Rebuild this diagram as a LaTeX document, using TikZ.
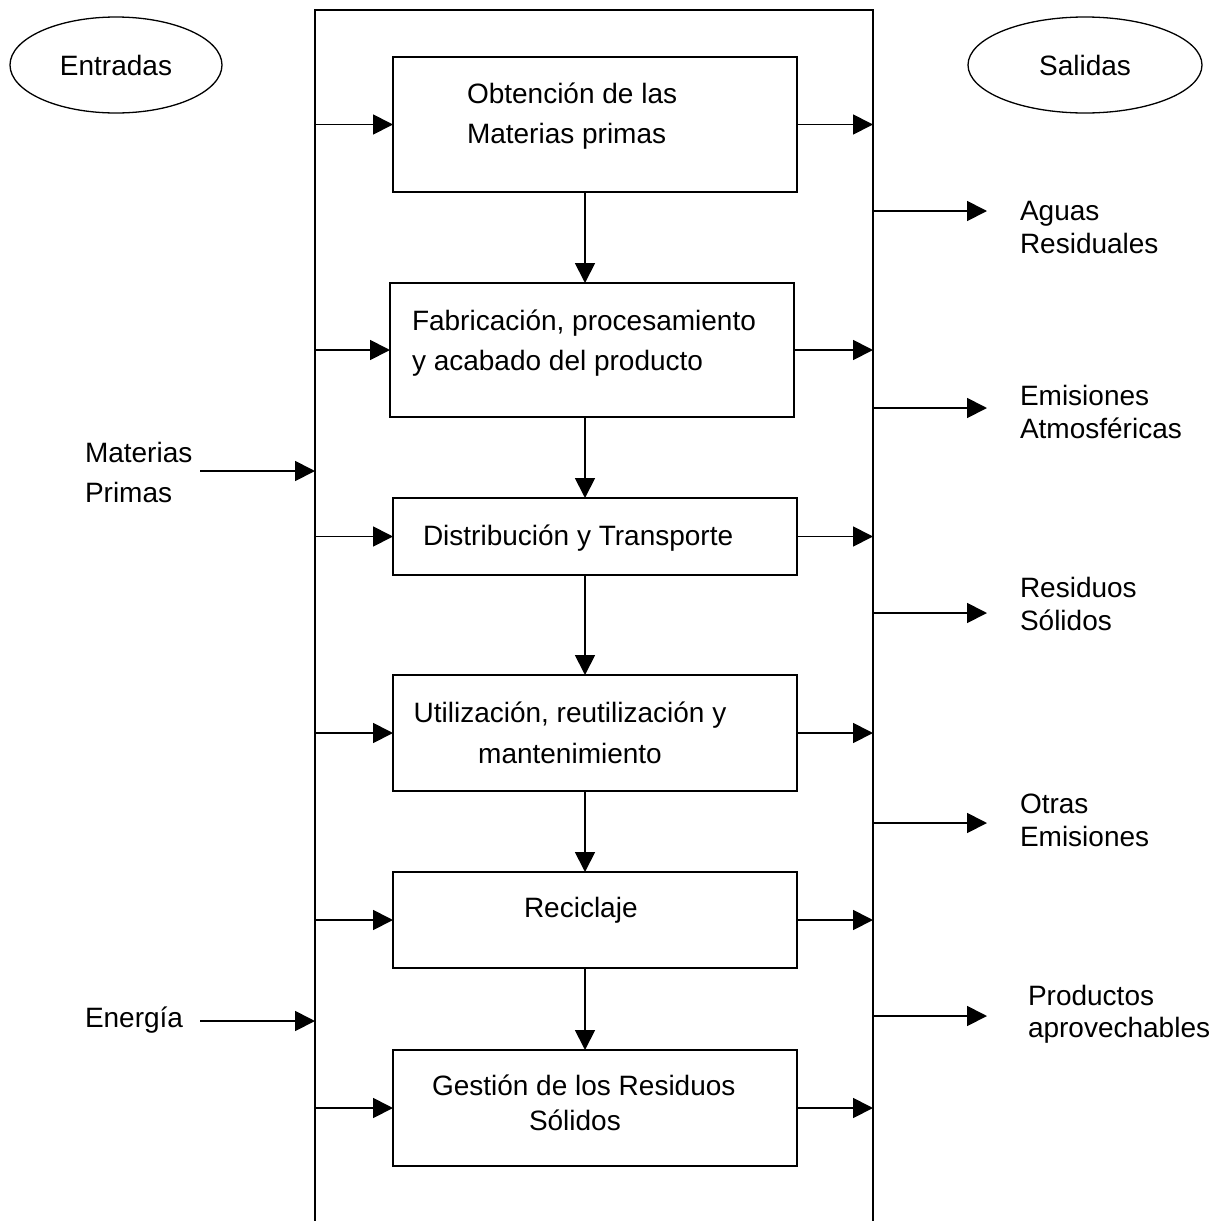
\documentclass[tikz,border=0pt]{standalone}
\usepackage{fontspec}
\setmainfont{Liberation Sans}
\usetikzlibrary{arrows.meta,shapes.geometric}

\begin{document}
\begin{tikzpicture}[x=1pt,y=-1pt,
  every node/.style={inner sep=0pt, outer sep=0pt},
  frame/.style={draw, line width=1.9pt},
  stage/.style={draw, line width=1.9pt, minimum width=404pt},
  oval/.style={draw, ellipse, line width=1.3pt, minimum height=96pt,
    font=\fontsize{28}{34}\selectfont},
  % multi-line labels are anchored on the baseline of their last line
  txt/.style={anchor=base west, align=left, font=\fontsize{28}{40}\selectfont},
  txtc/.style={anchor=base, align=center, font=\fontsize{28}{41}\selectfont},
  side/.style={anchor=base west, align=left, font=\fontsize{28}{33}\selectfont},
  arr/.style={line width=1.8pt, -{Triangle[length=20pt,width=20pt]}},
]
\useasboundingbox (0,0) rectangle (1217,1221);

% outer process frame (open at the bottom)
\node[frame, minimum width=558pt, minimum height=1250pt, anchor=north west]
  (frame) at (315,10) {};

% headings
\node[oval, minimum width=212pt] (entradas) at (116,65) {Entradas};
\node[oval, minimum width=234pt] (salidas) at (1085,65) {Salidas};

% life-cycle stages
\node[stage, minimum height=135pt] (b1) at (595,124.5) {};
\node[stage, minimum height=134pt] (b2) at (592,350) {};
\node[stage, minimum height=77pt]  (b3) at (595,536.5) {};
\node[stage, minimum height=116pt] (b4) at (595,733) {};
\node[stage, minimum height=96pt]  (b5) at (595,920) {};
\node[stage, minimum height=116pt] (b6) at (595,1108) {};

\node[txt] (t1) at (467,143) {Obtención de las\\Materias primas};
\node[txt] (t2) at (412,370) {Fabricación, procesamiento\\y acabado del producto};
\node[txt] (t3) at (423,545) {Distribución y Transporte};
\node[txtc] (t4) at (570,763) {Utilización, reutilización y\\mantenimiento};
\node[txt] (t5) at (524,917) {Reciclaje};
\node[txt, font=\fontsize{28}{35}\selectfont] (t6) at (432,1130)
  {Gestión de los Residuos\\\hspace*{97pt}Sólidos};

% flow between stages
\coordinate (col) at (585,0);
\foreach \a/\b in {b1/b2,b2/b3,b3/b4,b4/b5,b5/b6}
  \draw[arr] (\a.south -| col) -- (\b.north -| col);

% inputs into and outputs from every stage
\foreach \s in {b1,b2,b3,b4,b5,b6}{
  \draw[arr] (frame.west |- \s) -- (\s);
  \draw[arr] (\s) -- (frame.east |- \s);
}

% external inputs
\node[txt] (lmp) at (85,502) {Materias\\Primas};
\node[txt] (len) at (85,1027) {Energía};
\coordinate (inmp) at (200,471);
\coordinate (inen) at (200,1021);
\draw[arr] (inmp) -- (frame.west |- inmp);
\draw[arr] (inen) -- (frame.west |- inen);

% external outputs
\coordinate (o1) at (987,211);
\coordinate (o2) at (987,408);
\coordinate (o3) at (987,613);
\coordinate (o4) at (987,823);
\coordinate (o5) at (987,1016);
\foreach \o in {o1,o2,o3,o4,o5}
  \draw[arr] (frame.east |- \o) -- (\o);

\node[side] (l1) at (1020,253) {Aguas\\Residuales};
\node[side] (l2) at (1020,438) {Emisiones\\Atmosféricas};
\node[side] (l3) at (1020,630) {Residuos\\Sólidos};
\node[side] (l4) at (1020,846) {Otras\\Emisiones};
\node[side, font=\fontsize{28}{32}\selectfont] (l5) at (1028,1037) {Productos\\aprovechables};
\end{tikzpicture}
\end{document}
